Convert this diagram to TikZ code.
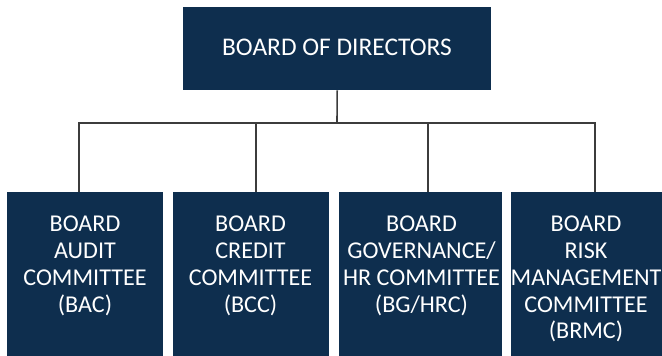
\documentclass[tikz,border=0pt]{standalone}
\usepackage{fontspec}
\setmainfont{Carlito}
\definecolor{navy}{RGB}{14,46,78}
\definecolor{linegray}{RGB}{60,60,60}
\begin{document}
\begin{tikzpicture}[x=1bp,y=-1bp,
  box/.style={fill=navy,draw=none,inner sep=0pt,anchor=north west},
  lbl/.style={text=white,font=\fontsize{24.2}{27}\selectfont,align=center,inner sep=0pt,anchor=north},
  conn/.style={draw=linegray,line width=1.6bp}]
\useasboundingbox (0,0) rectangle (662,355);
\clip (0,0) rectangle (662,355);
\node[box,minimum width=308bp,minimum height=83bp] (bod) at (183,7) {};
\node[lbl,anchor=center,font=\fontsize{25.5}{27}\selectfont] (bodt) at (337,47.5) {BOARD OF DIRECTORS};
\node[box,minimum width=156bp,minimum height=170bp] (b1) at (7,192) {};
\node[box,minimum width=156bp,minimum height=170bp] (b2) at (173,192) {};
\node[box,minimum width=163bp,minimum height=170bp] (b3) at (339,192) {};
\node[box,minimum width=160bp,minimum height=170bp] (b4) at (511,192) {};
\node[lbl] (t1) at (85,215.5) {BOARD\\AUDIT\\COMMITTEE\\(BAC)};
\node[lbl] (t2) at (250.5,215.5) {BOARD\\CREDIT\\COMMITTEE\\(BCC)};
\node[lbl] (t3) at (421.5,215.5) {BOARD\\GOVERNANCE/\\HR COMMITTEE\\(BG/HRC)};
\node[lbl] (t4) at (586,215.5) {BOARD\\RISK\\MANAGEMENT\\COMMITTEE\\(BRMC)};
\coordinate (h) at (337,123);
\coordinate (j1) at (79,123);
\coordinate (j2) at (256,123);
\coordinate (j3) at (428,123);
\coordinate (j4) at (595,123);
\draw[conn] (bod.south) -- (h);
\draw[conn] (j1 |- b1.north) -- (j1) -- (j4) -- (j4 |- b4.north);
\draw[conn] (j2) -- (j2 |- b2.north);
\draw[conn] (j3) -- (j3 |- b3.north);
\end{tikzpicture}
\end{document}
